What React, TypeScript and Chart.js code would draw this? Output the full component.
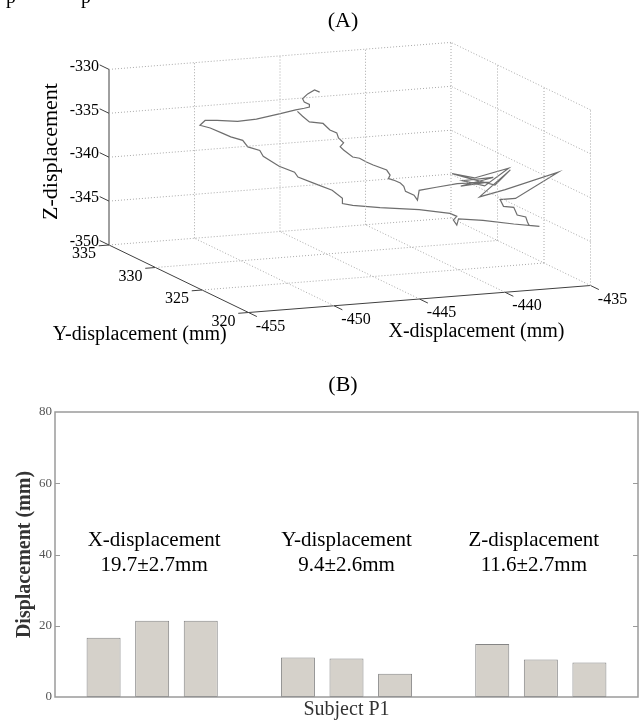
import React, { useEffect, useRef } from 'react';
import { Chart, registerables } from 'chart.js';

Chart.register(...registerables);

const SERIF = '"Liberation Serif", "Times New Roman", Times, serif';

// ---------------- Panel (A): 3-D marker trajectory (mm) ----------------
const trajX = [
  -445.4, -445.7, -446.1, -446.4, -446.3, -446.0, -446.0, -446.3, -446.8, -447.7, -449.1,
  -450.2, -451.4, -452.1, -452.4, -451.8, -451.1, -450.6, -449.9, -449.6, -448.9, -448.7,
  -449.4, -448.5, -448.3, -447.2, -446.3, -445.7, -445.7, -445.1, -443.5,
  -442.3, -440.5, -440.1, -440.3, -440.1, -440.0,
  -440.2, -438.4, -436.9, -437.5, -437.6, -437.7, -438.2, -438.4, -439.0, -439.2, -438.3,
  -435.8, -438.9, -440.4, -438.6, -439.5, -441.0, -442.0,
  -440.7, -438.7, -440.1, -441.4, -439.6,
  -440.1, -441.5, -439.8, -441.7,
  -441.3, -442.3, -442.4, -442.6, -443.1, -443.2, -443.4, -443.8, -444.1, -444.0, -444.2,
  -443.9, -444.3, -444.7, -445.1,
  -444.0, -444.2, -444.0, -444.3, -444.4, -444.8, -445.2, -446.0, -446.4, -446.7,
];
const trajY = [
  330, 330, 330, 330, 330, 330, 330, 330, 330, 330, 330,
  330, 330, 330, 330, 330, 330, 330, 330, 330, 330, 330,
  327, 327, 327, 327, 327, 327, 327, 327, 327,
  325, 325, 325, 325, 325, 325,
  322, 322, 322, 322, 322, 322, 322, 322, 322, 322, 322,
  322, 322, 322, 322, 322, 322, 322,
  322, 322, 322, 322, 322,
  322, 322, 322, 322,
  325, 325, 325, 325, 325, 325, 325, 325, 325, 325, 325,
  327, 327, 327, 327,
  330, 330, 330, 330, 330, 330, 330, 330, 330, 330,
];
const trajZ = [
  -331.5, -331.2, -331.6, -332.1, -332.5, -332.8, -333.1, -333.2, -333.3, -333.6, -334.0,
  -334.1, -333.8, -333.7, -334.2, -334.6, -335.3, -335.8, -336.3, -337.1, -337.6, -338.3,
  -337.8, -338.6, -339.2, -340.2, -341.0, -342.0, -342.6, -342.9, -343.4,
  -342.8, -343.5, -343.9, -344.3, -344.9, -344.2,
  -342.8, -343.5, -344.0, -343.8, -343.4, -342.8, -342.5, -341.6, -341.4, -340.6, -340.6,
  -338.0, -339.5, -340.1, -337.3, -338.9, -337.9, -337.2,
  -337.9, -337.1, -338.9, -338.1, -338.0,
  -338.2, -338.7, -338.5, -338.4,
  -340.4, -340.6, -341.7, -341.1, -340.6, -340.0, -339.6, -339.2, -339.0, -338.6, -338.0,
  -338.5, -338.1, -337.6, -337.4,
  -338.3, -337.9, -337.5, -336.9, -336.3, -335.9, -335.1, -334.8, -334.1, -333.5,
];
const xTicks3d = [-455, -450, -445, -440, -435];
const yTicks3d = [320, 325, 330, 335];
const zTicks3d = [-350, -345, -340, -335, -330];

// ---------------- Panel (B): per-trial displacement (mm) ----------------
const groupNames = ['X-displacement', 'Y-displacement', 'Z-displacement'];
const groupStats = ['19.7±2.7mm', '9.4±2.6mm', '11.6±2.7mm'];
const xTrials = [16.6, 21.4, 21.4];
const yTrials = [11.1, 10.8, 6.5];
const zTrials = [14.9, 10.5, 9.7];
const barTicks = [0, 20, 40, 60, 80];

// ---------------- 3-D view (orthographic projection to view units) ----------------
const xMin = xTicks3d[0], xMax = xTicks3d[xTicks3d.length - 1];
const yMin = yTicks3d[0], yMax = yTicks3d[yTicks3d.length - 1];
const zMin = zTicks3d[0], zMax = zTicks3d[zTicks3d.length - 1];
const VIEW = { ox: 109, oy: 245, ex: [17.1, -1.35], ey: [-9.3, -4.5], ez: [0, -8.78] };

function project(x: number, y: number, z: number) {
  const dx = x - xMin, dy = y - yMax, dz = z - zMin;
  return {
    x: VIEW.ox + dx * VIEW.ex[0] + dy * VIEW.ey[0] + dz * VIEW.ez[0],
    y: VIEW.oy + dx * VIEW.ex[1] + dy * VIEW.ey[1] + dz * VIEW.ez[1],
  };
}

type P3 = [number, number, number];
function segData(segs: [P3, P3][]) {
  const out: { x: number; y: number }[] = [];
  segs.forEach(([a, b]) => {
    out.push(project(a[0], a[1], a[2]), project(b[0], b[1], b[2]), { x: NaN, y: NaN });
  });
  return out;
}

function buildGrid(): [P3, P3][] {
  const s: [P3, P3][] = [];
  xTicks3d.slice(1).forEach((x) => s.push([[x, yMax, zMin], [x, yMax, zMax]]));
  zTicks3d.slice(1).forEach((z) => s.push([[xMin, yMax, z], [xMax, yMax, z]]));
  yTicks3d.slice(0, -1).forEach((y) => s.push([[xMax, y, zMin], [xMax, y, zMax]]));
  zTicks3d.forEach((z) => s.push([[xMax, yMin, z], [xMax, yMax, z]]));
  xTicks3d.slice(1, -1).forEach((x) => s.push([[x, yMin, zMin], [x, yMax, zMin]]));
  yTicks3d.slice(1).forEach((y) => s.push([[xMin, y, zMin], [xMax, y, zMin]]));
  return s;
}

function buildAxes(): [P3, P3][] {
  const s: [P3, P3][] = [
    [[xMin, yMax, zMin], [xMin, yMax, zMax]],
    [[xMin, yMax, zMin], [xMin, yMin, zMin]],
    [[xMin, yMin, zMin], [xMax, yMin, zMin]],
  ];
  zTicks3d.forEach((z) => s.push([[xMin, yMax, z], [xMin, yMax + 1, z]]));
  yTicks3d.forEach((y) => s.push([[xMin, y, zMin], [xMin - 0.6, y, zMin]]));
  xTicks3d.forEach((x) => s.push([[x, yMin, zMin], [x, yMin - 0.9, zMin]]));
  return s;
}

const panelAText = {
  id: 'panelAText',
  afterDraw(chart: any) {
    const { ctx } = chart;
    const sx = chart.scales.x, sy = chart.scales.y;
    const px = (p: { x: number; y: number }) => ({ x: sx.getPixelForValue(p.x), y: sy.getPixelForValue(p.y) });
    ctx.save();
    ctx.fillStyle = '#000';
    ctx.font = `16px ${SERIF}`;
    ctx.textAlign = 'right';
    ctx.textBaseline = 'middle';
    zTicks3d.forEach((z) => {
      const p = px(project(xMin, yMax, z));
      ctx.fillText(String(z), p.x - 10, p.y - 3);
    });
    ctx.textAlign = 'center';
    yTicks3d.forEach((y) => {
      const p = px(project(xMin, y, zMin));
      ctx.fillText(String(y), p.x - 25, p.y + 9);
    });
    xTicks3d.forEach((x) => {
      const p = px(project(x, yMin, zMin));
      ctx.fillText(String(x), p.x + 22, p.y + 14);
    });
    ctx.textBaseline = 'alphabetic';
    ctx.font = `20px ${SERIF}`;
    const xm = px(project((xMin + xMax) / 2, yMin, zMin));
    ctx.fillText('X-displacement (mm)', xm.x + 57, xm.y + 38);
    const ym = px(project(xMin, (yMin + yMax) / 2, zMin));
    ctx.fillText('Y-displacement (mm)', ym.x - 39, ym.y + 61);
    const zm = px(project(xMin, yMax, (zMin + zMax) / 2));
    ctx.save();
    ctx.translate(zm.x - 52, zm.y - 5.7);
    ctx.rotate(-Math.PI / 2);
    ctx.font = `22px ${SERIF}`;
    ctx.fillText('Z-displacement', 0, 0);
    ctx.restore();
    ctx.font = `22px ${SERIF}`;
    ctx.fillText('(A)', 343, 27);
    ctx.textAlign = 'left';
    ctx.font = `20px ${SERIF}`;
    ctx.fillText('p', 6, 3);
    ctx.fillText('p', 81, 3);
    ctx.restore();
  },
};

const panelBDecor = {
  id: 'panelBDecor',
  afterDraw(chart: any) {
    const { ctx, chartArea: a } = chart;
    const x = chart.scales.x, y = chart.scales.y;
    ctx.save();
    ctx.strokeStyle = '#9a9a9a';
    ctx.lineWidth = 1.5;
    ctx.strokeRect(a.left, a.top, a.right - a.left, a.bottom - a.top);
    ctx.lineWidth = 1;
    barTicks.slice(1, -1).forEach((v) => {
      const py = Math.round(y.getPixelForValue(v)) + 0.5;
      ctx.beginPath();
      ctx.moveTo(a.left, py); ctx.lineTo(a.left + 5, py);
      ctx.moveTo(a.right - 5, py); ctx.lineTo(a.right, py);
      ctx.stroke();
    });
    ctx.fillStyle = '#000';
    ctx.textAlign = 'center';
    ctx.textBaseline = 'alphabetic';
    ctx.font = `21px ${SERIF}`;
    const nudge = [2, 0, -7];
    groupNames.forEach((name, g) => {
      const cx = x.getPixelForValue(g * 4 + 2) + nudge[g];
      const by = y.getPixelForValue(42.5);
      ctx.fillText(name, cx, by);
      ctx.fillText(groupStats[g], cx, by + 25);
    });
    ctx.font = `22px ${SERIF}`;
    ctx.fillText('(B)', 343, 31);
    ctx.restore();
  },
};

export default function App() {
  const topRef = useRef<HTMLCanvasElement>(null);
  const botRef = useRef<HTMLCanvasElement>(null);

  useEffect(() => {
    const trajectory = trajX.map((x, i) => project(x, trajY[i], trajZ[i]));
    const top = new Chart(topRef.current as HTMLCanvasElement, {
      type: 'scatter',
      data: {
        datasets: [
          { data: segData(buildGrid()), showLine: true, borderColor: '#a8a8a8', borderWidth: 1, borderDash: [1, 2], pointRadius: 0, spanGaps: false },
          { data: segData(buildAxes()), showLine: true, borderColor: '#404040', borderWidth: 1, pointRadius: 0, spanGaps: false },
          { data: trajectory, showLine: true, borderColor: '#6e6e6e', borderWidth: 1.2, pointRadius: 0 },
        ],
      } as any,
      options: {
        responsive: false,
        animation: false,
        devicePixelRatio: 1,
        events: [],
        layout: { padding: 0 },
        scales: {
          x: { type: 'linear', min: 0, max: 642, display: false },
          y: { type: 'linear', min: 0, max: 360, reverse: true, display: false },
        },
        plugins: { legend: { display: false }, tooltip: { enabled: false } },
      } as any,
      plugins: [panelAText],
    });

    const groups = [xTrials, yTrials, zTrials];
    const barData = groups.flatMap((vals, g) => vals.map((v, i) => ({ x: g * 4 + i + 1, y: v })));
    const bot = new Chart(botRef.current as HTMLCanvasElement, {
      type: 'bar',
      data: {
        datasets: [
          {
            data: barData,
            backgroundColor: '#d5d1ca',
            borderColor: '#858585',
            borderWidth: 1,
            borderSkipped: false,
            categoryPercentage: 0.7,
            barPercentage: 1,
          },
        ],
      } as any,
      options: {
        responsive: false,
        animation: false,
        devicePixelRatio: 1,
        events: [],
        layout: { padding: { top: 52, right: 4, left: 0, bottom: 0 } },
        scales: {
          x: {
            type: 'linear', min: 0, max: 12, offset: false,
            grid: { display: false, drawTicks: false }, border: { display: false },
            ticks: { display: false, stepSize: 1 },
            title: { display: true, text: 'Subject P1', color: '#333', font: { family: SERIF, size: 20 }, padding: { top: 0, bottom: -1 } },
            afterFit: (s: any) => { s.height = 24; },
          },
          y: {
            type: 'linear', min: 0, max: 80,
            grid: { display: false, drawTicks: false }, border: { display: false },
            ticks: { stepSize: 20, color: '#555', font: { family: SERIF, size: 13 }, padding: 3 },
            title: { display: true, text: 'Displacement (mm)', color: '#333', font: { family: SERIF, size: 20, weight: 'bold' }, padding: { top: 13, bottom: 0 } },
            afterFit: (s: any) => { s.width = 55; },
          },
        },
        plugins: { legend: { display: false }, tooltip: { enabled: false } },
      } as any,
      plugins: [panelBDecor],
    });

    return () => { top.destroy(); bot.destroy(); };
  }, []);

  return (
    <div style={{ position: 'absolute', left: 0, top: 0, width: 642, height: 721, background: '#fff' }}>
      <canvas ref={topRef} width={642} height={360} style={{ display: 'block', width: 642, height: 360 }} />
      <canvas ref={botRef} width={642} height={361} style={{ display: 'block', width: 642, height: 361 }} />
    </div>
  );
}
